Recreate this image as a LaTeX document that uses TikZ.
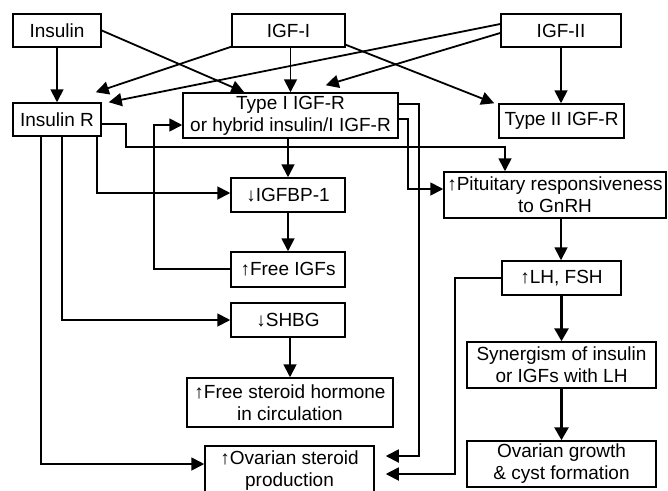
\documentclass[tikz,border=0pt]{standalone}
\usepackage{fontspec}
\setmainfont{Liberation Sans}
\usetikzlibrary{arrows.meta,calc}
\begin{document}
\begin{tikzpicture}[x=1pt,y=-1pt,
  box/.style={draw,line width=1.5pt,inner sep=0pt,align=center,font=\fontsize{19}{22}\selectfont},
  arr/.style={line width=1.8pt,-{Triangle[length=13pt,width=13pt]}},
  thk/.style={line width=2.8pt,-{Triangle[length=13pt,width=14pt]}}]
\useasboundingbox (0,0) rectangle (668,490);
\node[box,minimum width=88pt,minimum height=33pt] (ins) at (57,30.5) {Insulin};
\node[box,minimum width=113pt,minimum height=33pt] (igf1) at (288.5,30.5) {IGF-I};
\node[box,minimum width=120pt,minimum height=33pt] (igf2) at (561,30.5) {IGF-II};
\node[box,minimum width=88pt,minimum height=33pt] (insR) at (57,119.5) {Insulin R};
\node[box,minimum width=215pt,minimum height=45pt] (t1) at (290.5,115.5) {Type I IGF-R\\or hybrid insulin/I IGF-R};
\node[box,minimum width=125pt,minimum height=34pt] (t2) at (561.5,121) {Type II IGF-R};
\node[box,minimum width=114pt,minimum height=34pt] (bp) at (288,195) {↓IGFBP-1};
\node[box,minimum width=114pt,minimum height=35pt] (fi) at (288,269.5) {↑Free IGFs};
\node[box,minimum width=114pt,minimum height=34pt] (shbg) at (288,320) {↓SHBG};
\node[box,minimum width=206pt,minimum height=49pt] (fsh) at (290,402.5) {↑Free steroid hormone\\in circulation};
\node[box,minimum width=169pt,minimum height=50pt] (ovs) at (289.5,471) {↑Ovarian steroid\\production};
\node[box,minimum width=222pt,minimum height=46pt] (pit) at (555,195) {↑Pituitary responsiveness\\to GnRH};
\node[box,minimum width=119pt,minimum height=34pt] (lh) at (561.5,278) {↑LH, FSH};
\node[box,minimum width=189pt,minimum height=46pt] (syn) at (561.5,365) {Synergism of insulin\\or IGFs with LH};
\node[box,minimum width=189pt,minimum height=46pt] (og) at (561.5,464) {Ovarian growth\\\& cyst formation};

\draw[arr] (ins.south) -- (insR.north);
\draw[arr] (ins.east) -- ([xshift=62pt]t1.north west);
\draw[arr] (igf1.south -| t1.north) -- (t1.north);
\draw[arr] ([yshift=1pt]igf1.south west) -- ([xshift=-6pt,yshift=10pt]insR.north east);
\draw[arr] ([yshift=3pt]igf1.south east) -- ([xshift=-4pt]t2.north west);
\draw[arr] ([yshift=6.5pt]igf2.west) -- ([xshift=7pt]insR.north east);
\draw[arr] ([yshift=-2.5pt]igf2.west) -- ([xshift=-73pt,yshift=7pt]t1.north east);
\draw[arr] (igf2.south) -- (igf2.south |- t2.north);
\draw[arr] ([yshift=-4.5pt]insR.east) -| (126,147) -| ([xshift=-50pt]pit.north);
\draw[arr] (t1.south -| bp.north) -- (bp.north);
\draw[arr] ([xshift=-5pt]insR.south east) |- ([yshift=2pt]bp.west);
\draw[arr] ([xshift=5pt]insR.south) |- (shbg.west);
\draw[arr] ([xshift=-16pt]insR.south) |- ([yshift=7pt]ovs.west);
\draw[arr] (bp.south) -- (fi.north);
\draw[arr] ([yshift=0.5pt]fi.west) -- ++(-76,0) |- ([yshift=-9.5pt]t1.west);
\draw[arr] (shbg.south -| fsh.north) -- (fsh.north);
\draw[arr] ([yshift=-3.5pt]t1.east) -- ++(9,0) |- ([yshift=6pt]pit.west);
\draw[arr] ([yshift=11.5pt]t1.east) -- ++(20,0) |- ([xshift=11pt,yshift=15pt]ovs.east);
\draw[arr] (lh.west) -- ++(-46,0) |- ([xshift=11pt,yshift=-3pt]ovs.east);
\draw[arr] ([xshift=-0.5pt]lh.north |- pit.south) -- ([xshift=-0.5pt]lh.north);
\draw[thk] (lh.south) -- (syn.north);
\draw[thk] (syn.south) -- (og.north);
\end{tikzpicture}
\end{document}
